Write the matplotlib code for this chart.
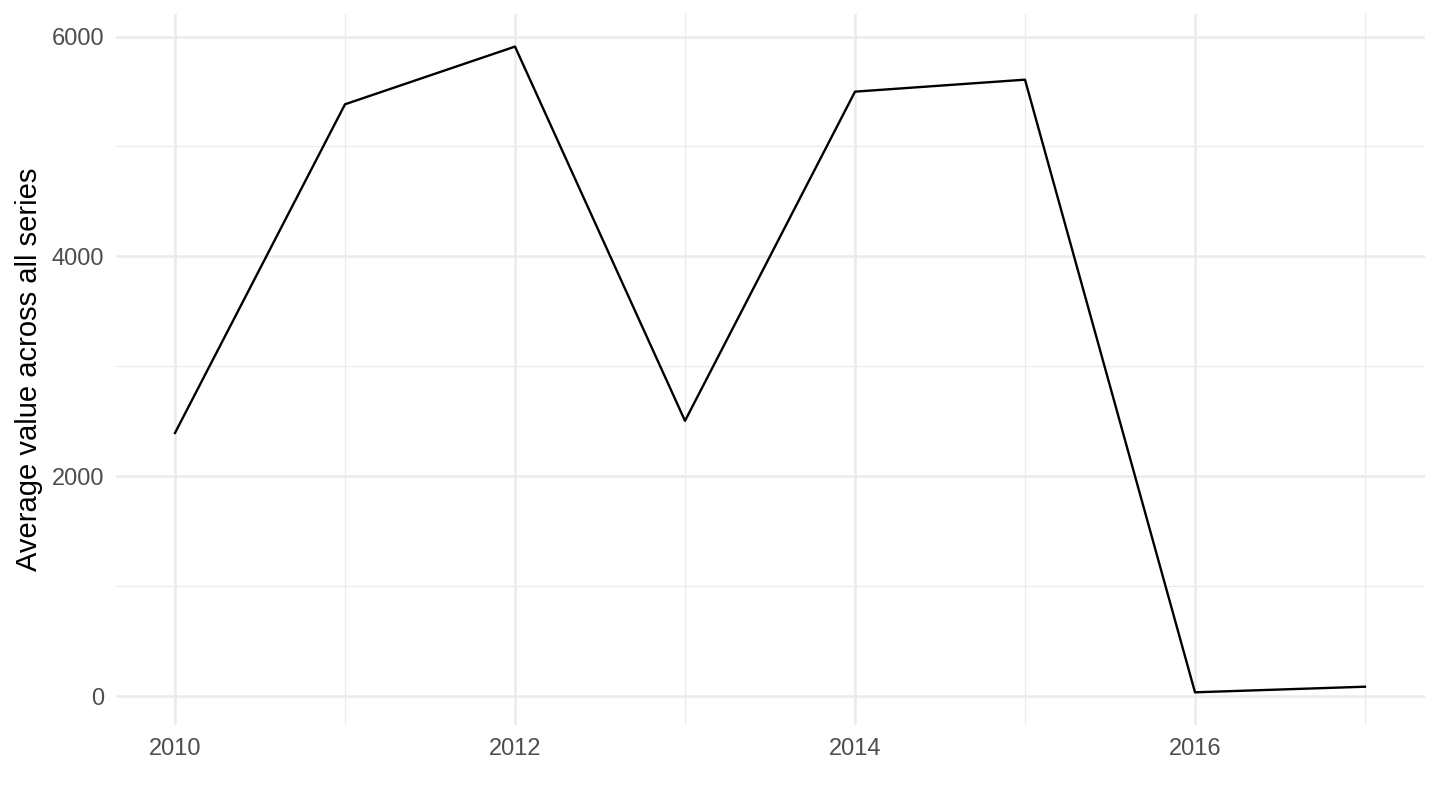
import numpy as np
import matplotlib
matplotlib.use("Agg")
import matplotlib.pyplot as plt
from matplotlib.ticker import MultipleLocator

plt.rcParams['font.family'] = ['Liberation Sans', 'DejaVu Sans']

# averages
years = [2010, 2011, 2012, 2013, 2014, 2015, 2016, 2017]
avg_value = [2394, 5384, 5909, 2504, 5499, 5608, 34, 85]

fig = plt.figure(figsize=(14.4, 8.1), dpi=100)
ax = fig.add_axes([115.5 / 1440, 1 - 724.6 / 810, (1424.5 - 115.5) / 1440, (724.6 - 14.3) / 810])

ax.plot(years, avg_value, color='black', linewidth=1.7, zorder=3)

# ggplot-style 5% expansion
xr = max(years) - min(years)
ax.set_xlim(min(years) - 0.05 * xr, max(years) + 0.05 * xr)
yr = max(avg_value) - min(avg_value)
ax.set_ylim(min(avg_value) - 0.05 * yr, max(avg_value) + 0.05 * yr)

ax.xaxis.set_major_locator(MultipleLocator(2))
ax.xaxis.set_minor_locator(MultipleLocator(1))
ax.yaxis.set_major_locator(MultipleLocator(2000))
ax.yaxis.set_minor_locator(MultipleLocator(1000))

ax.grid(which='major', color='#EBEBEB', linewidth=1.8)
ax.grid(which='minor', color='#EBEBEB', linewidth=0.9)
ax.set_axisbelow(True)
for s in ax.spines.values():
    s.set_visible(False)
ax.tick_params(which='both', length=0)
ax.tick_params(axis='x', labelsize=17, labelcolor='#4D4D4D', pad=10)
ax.tick_params(axis='y', labelsize=17, labelcolor='#4D4D4D', pad=8)

ax.set_ylabel('Average value across all series', fontsize=21, color='black', labelpad=6.5)

fig.savefig('out.png', dpi=100)
